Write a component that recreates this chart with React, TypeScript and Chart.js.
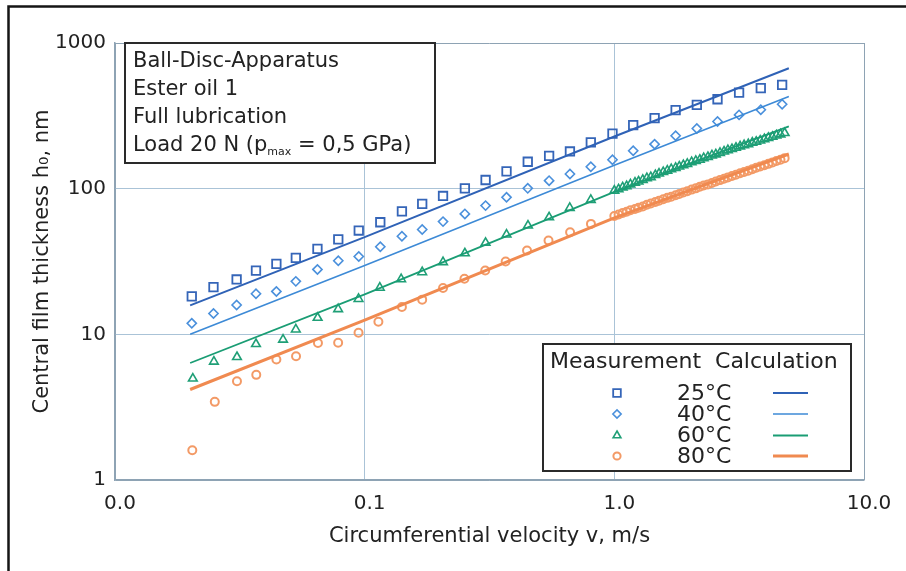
import React, { useEffect, useRef } from 'react';
import { Chart, registerables } from 'chart.js';

Chart.register(...registerables);

// ---------- axis ticks ----------
const xTickValues = [0.01, 0.1, 1, 10];
const xTickLabels = ['0.0', '0.1', '1.0', '10.0'];
const yTickValues = [1, 10, 100, 1000];
const yTickLabels = ['1', '10', '100', '1000'];

const xTitle = 'Circumferential velocity v, m/s';
const yTitle = 'Central film thickness h\u2080, nm';

const infoLines = ['Ball-Disc-Apparatus', 'Ester oil 1', 'Full lubrication'];
const loadParts = ['Load 20 N (p', 'max', ' = 0,5 GPa)'];

const legendHeader = 'Measurement  Calculation';
const seriesNames = ['25°C', '40°C', '60°C', '80°C'];

// ---------- measurement data ----------
const vSparse = [0.0203, 0.0248, 0.0307, 0.0367, 0.0443, 0.053, 0.0647, 0.0784, 0.0947, 0.1155,
  0.141, 0.17, 0.206, 0.252, 0.305, 0.37, 0.45, 0.548, 0.664, 0.805,
  0.983, 1.19, 1.45, 1.76, 2.14, 2.59, 3.16, 3.86, 4.7];

const h25 = [18.2, 21.1, 23.8, 27.4, 30.5, 33.5, 38.6, 44.8, 51.6, 58.8,
  69.9, 78.6, 89.1, 100.5, 114.7, 131.3, 153, 168, 180, 207.6,
  239, 273, 305, 346, 376, 411, 457, 490, 516];

const h40 = [11.9, 13.9, 15.9, 19.0, 19.7, 23.1, 27.9, 32.0, 34.2, 39.9,
  47.1, 52.4, 59.4, 67.1, 76.5, 87.2, 100.5, 113.5, 126, 141.5,
  158, 182, 202, 231, 259, 289, 321, 348, 380];

const v60Sparse = [0.0205, 0.0249, 0.0308, 0.0367, 0.0471, 0.053, 0.0648, 0.0783, 0.0945, 0.115,
  0.14, 0.17, 0.206, 0.252, 0.305, 0.37, 0.451, 0.548, 0.663, 0.805];
const h60Sparse = [4.97, 6.5, 6.99, 8.58, 9.2, 10.8, 13.0, 14.9, 17.5, 20.9,
  23.9, 26.7, 31.3, 36.0, 42.5, 48.4, 55.8, 63.6, 73.8, 83.7];

const v80Sparse = [0.0204, 0.0251, 0.0308, 0.0368, 0.0443, 0.0531, 0.065, 0.0783, 0.0945, 0.1135,
  0.141, 0.17, 0.206, 0.251, 0.304, 0.367, 0.447, 0.545, 0.665, 0.806];
const h80Sparse = [1.6, 3.44, 4.77, 5.27, 6.72, 7.07, 8.72, 8.75, 10.25, 12.2,
  15.4, 17.3, 20.8, 24.1, 27.4, 31.6, 37.6, 44.0, 50.2, 57.3];

const vDense = [1.0, 1.04, 1.08, 1.12, 1.16, 1.21, 1.25, 1.3, 1.35, 1.4,
  1.46, 1.51, 1.57, 1.63, 1.69, 1.76, 1.82, 1.89, 1.96, 2.04,
  2.12, 2.2, 2.28, 2.37, 2.46, 2.55, 2.65, 2.75, 2.85, 2.96,
  3.07, 3.19, 3.31, 3.44, 3.57, 3.7, 3.84, 3.99, 4.14, 4.3,
  4.46, 4.63, 4.81];
const h60Dense = [97, 99, 102, 104, 107, 110, 112, 115, 118, 120,
  124, 127, 130, 133, 136, 139, 142, 145, 148, 152,
  155, 158, 162, 165, 169, 172, 176, 180, 184, 187,
  191, 195, 199, 202, 207, 210, 214, 219, 223, 227,
  232, 236, 241];
const h80Dense = [65, 66.5, 68, 69.5, 71, 72.5, 74, 75.5, 77.5, 79,
  81, 82.5, 84.5, 86.5, 88, 90, 92, 94, 96, 98.5,
  100.5, 103, 105, 107, 109.5, 112, 114.5, 117, 119.5, 122,
  124.5, 127.5, 130, 133, 136, 139, 142, 145, 148, 151.5,
  155, 158, 162];

// ---------- calculation lines ----------
const vCalc = [0.02, 0.1, 1, 5];
const calc25 = [15.8, 46.5, 228, 671];
const calc40 = [10.0, 29.7, 145, 429];
const calc60 = [6.36, 18.8, 95, 268];
const calc80 = [4.18, 12.5, 63, 173];

// ---------- styles ----------
const colors = ['#2f62b6', '#3d8ad6', '#1a9d74', '#f08a50'];
const markerColors = ['#3565b8', '#4a90dc', '#1f9f76', '#f39a66'];
const markerStyles = ['rect', 'rectRot', 'triangle', 'circle'];
const markerRadius = [6, 4.6, 5, 4];
const markerBorder = [1.8, 1.6, 1.6, 2];
const lineWidths = [2, 1.6, 1.8, 3];

const FONT = '"DejaVu Sans", "Liberation Sans", Arial, sans-serif';
const TEXT = '#222222';
const GRID = '#aac3d7';
const FRAME = '#8ea3b4';

const zip = (xs: number[], ys: number[]) => xs.map((x, i) => ({ x, y: ys[i] }));

function drawMarker(ctx: CanvasRenderingContext2D, style: string, x: number, y: number, r: number, color: string, bw: number) {
  ctx.save();
  ctx.strokeStyle = color;
  ctx.lineWidth = bw;
  ctx.beginPath();
  if (style === 'rect') {
    const s = Math.SQRT1_2 * r;
    ctx.rect(x - s, y - s, 2 * s, 2 * s);
  } else if (style === 'rectRot') {
    ctx.moveTo(x - r, y);
    ctx.lineTo(x, y - r);
    ctx.lineTo(x + r, y);
    ctx.lineTo(x, y + r);
    ctx.closePath();
  } else if (style === 'triangle') {
    ctx.moveTo(x, y - r);
    ctx.lineTo(x + r * Math.sin(2 * Math.PI / 3), y + r * 0.5);
    ctx.lineTo(x - r * Math.sin(2 * Math.PI / 3), y + r * 0.5);
    ctx.closePath();
  } else {
    ctx.arc(x, y, r, 0, Math.PI * 2);
  }
  ctx.stroke();
  ctx.restore();
}

const decorPlugin = {
  id: 'decor',
  beforeDraw(chart: any) {
    const ctx: CanvasRenderingContext2D = chart.ctx;
    ctx.save();
    ctx.strokeStyle = '#151515';
    ctx.lineWidth = 2.5;
    ctx.beginPath();
    ctx.moveTo(8.5, 571);
    ctx.lineTo(8.5, 6.5);
    ctx.lineTo(906, 6.5);
    ctx.stroke();
    ctx.restore();
  },
  afterDraw(chart: any) {
    const ctx: CanvasRenderingContext2D = chart.ctx;
    ctx.save();
    // info box
    ctx.fillStyle = '#ffffff';
    ctx.fillRect(125, 43, 310, 120);
    ctx.strokeStyle = '#2a2a2a';
    ctx.lineWidth = 2;
    ctx.strokeRect(125, 43, 310, 120);
    ctx.fillStyle = TEXT;
    ctx.textAlign = 'left';
    ctx.textBaseline = 'middle';
    ctx.font = '21px ' + FONT;
    infoLines.forEach((t, i) => ctx.fillText(t, 133, 62 + i * 27.7));
    const yLoad = 62 + 3 * 27.7;
    let xp = 133;
    ctx.fillText(loadParts[0], xp, yLoad);
    xp += ctx.measureText(loadParts[0]).width;
    ctx.font = '11px ' + FONT;
    ctx.fillText(loadParts[1], xp, yLoad + 7);
    xp += ctx.measureText(loadParts[1]).width;
    ctx.font = '21px ' + FONT;
    ctx.fillText(loadParts[2], xp, yLoad);

    // legend box
    ctx.fillStyle = '#ffffff';
    ctx.fillRect(543, 344, 308, 127);
    ctx.strokeStyle = '#2a2a2a';
    ctx.lineWidth = 2;
    ctx.strokeRect(543, 344, 308, 127);
    ctx.fillStyle = TEXT;
    ctx.font = '22px ' + FONT;
    ctx.fillText(legendHeader, 550, 362);
    const rows = [393, 414, 435.5, 456];
    seriesNames.forEach((name, i) => {
      const y = rows[i];
      drawMarker(ctx, markerStyles[i], 617, y, markerRadius[i] * 0.9, markerColors[i], markerBorder[i]);
      ctx.fillStyle = TEXT;
      ctx.font = '22px ' + FONT;
      ctx.fillText(name, 677, y + 1);
      ctx.strokeStyle = colors[i];
      ctx.lineWidth = lineWidths[i];
      ctx.beginPath();
      ctx.moveTo(773, y);
      ctx.lineTo(808, y);
      ctx.stroke();
    });
    ctx.restore();
  },
};

export default function App() {
  const canvasRef = useRef<HTMLCanvasElement>(null);

  useEffect(() => {
    const canvas = canvasRef.current;
    if (!canvas) return;

    const measure = [
      zip(vSparse, h25),
      zip(vSparse, h40),
      [...zip(v60Sparse, h60Sparse), ...zip(vDense, h60Dense)],
      [...zip(v80Sparse, h80Sparse), ...zip(vDense, h80Dense)],
    ];
    const calcs = [calc25, calc40, calc60, calc80];

    const lineSets = calcs.map((c, i) => ({
      label: seriesNames[i] + ' calc',
      data: zip(vCalc, c),
      showLine: true,
      borderColor: colors[i],
      borderWidth: lineWidths[i],
      pointRadius: 0,
      fill: false,
      tension: 0,
    }));
    const markSets = measure.map((d, i) => ({
      label: seriesNames[i],
      data: d,
      showLine: false,
      pointStyle: markerStyles[i],
      pointRadius: markerRadius[i],
      pointBorderWidth: markerBorder[i],
      pointBorderColor: markerColors[i],
      pointBackgroundColor: 'rgba(0,0,0,0)',
      borderColor: markerColors[i],
      backgroundColor: 'rgba(0,0,0,0)',
    }));

    const chart = new Chart(canvas, {
      type: 'scatter',
      data: { datasets: [...lineSets, ...markSets] as any },
      options: {
        responsive: false,
        animation: false,
        devicePixelRatio: 1,
        layout: { padding: { top: 43, right: 42, left: 0, bottom: 0 } },
        plugins: { legend: { display: false }, tooltip: { enabled: false } },
        scales: {
          x: {
            type: 'logarithmic',
            position: 'bottom',
            min: 0.01,
            max: 10,
            afterFit: (s: any) => { s.height = 91; },
            afterBuildTicks: (s: any) => { s.ticks = xTickValues.map((v) => ({ value: v })); },
            ticks: {
              autoSkip: false,
              maxRotation: 0,
              padding: 12,
              labelOffset: 5,
              color: TEXT,
              font: { family: FONT, size: 20 },
              callback: (_v: any, i: number) => xTickLabels[i],
            },
            grid: {
              drawTicks: false,
              lineWidth: 1,
              color: (c: any) => (c.tick && (c.tick.value === 0.01 || c.tick.value === 10) ? FRAME : GRID),
            },
            border: { display: true, color: FRAME, width: 1.5 },
            title: {
              display: true,
              text: xTitle,
              color: TEXT,
              font: { family: FONT, size: 21 },
              padding: { top: 0, bottom: 22 },
            },
          },
          y: {
            type: 'logarithmic',
            position: 'left',
            min: 1,
            max: 1000,
            afterFit: (s: any) => { s.width = 115; },
            afterBuildTicks: (s: any) => { s.ticks = yTickValues.map((v) => ({ value: v })); },
            ticks: {
              autoSkip: false,
              padding: 9,
              color: TEXT,
              font: { family: FONT, size: 20 },
              callback: (_v: any, i: number) => yTickLabels[i],
            },
            grid: {
              drawTicks: false,
              lineWidth: 1,
              color: (c: any) => (c.tick && (c.tick.value === 1 || c.tick.value === 1000) ? FRAME : GRID),
            },
            border: { display: true, color: FRAME, width: 1.5 },
            title: {
              display: true,
              text: yTitle,
              color: TEXT,
              font: { family: FONT, size: 21 },
              padding: { top: 30, bottom: 0 },
            },
          },
        },
      } as any,
      plugins: [decorPlugin],
    });

    return () => chart.destroy();
  }, []);

  return (
    <div style={{ position: 'absolute', left: 0, top: 0, width: 906, height: 571, background: '#ffffff' }}>
      <canvas ref={canvasRef} width={906} height={571} style={{ display: 'block' }} />
    </div>
  );
}
